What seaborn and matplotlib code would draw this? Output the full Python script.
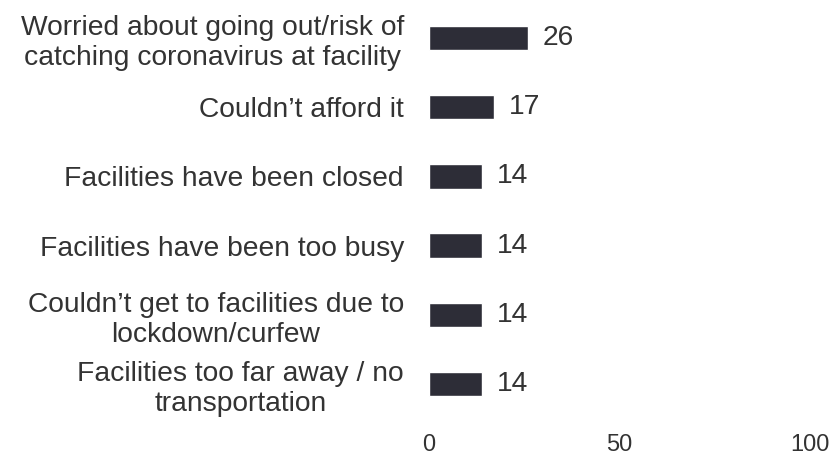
import matplotlib
matplotlib.use("Agg")
import matplotlib.pyplot as plt
import seaborn as sns
import pandas as pd

reasons = [
    "Worried about going out/risk of\ncatching coronavirus at facility",
    "Couldn\u2019t afford it",
    "Facilities have been closed",
    "Facilities have been too busy",
    "Couldn\u2019t get to facilities due to\nlockdown/curfew",
    "Facilities too far away / no\ntransportation",
]
values = [26, 17, 14, 14, 14, 14]
x_ticks = [0, 50, 100]

df = pd.DataFrame({"reason": reasons, "value": values})

sns.set_theme(style="white")
plt.rcParams["font.family"] = ["Liberation Sans", "DejaVu Sans"]

fig, ax = plt.subplots(figsize=(8.35, 4.54), dpi=100)
fig.subplots_adjust(left=429 / 835, right=810 / 835, top=1 - 3.5 / 454, bottom=1 - 418.5 / 454)

sns.barplot(data=df, x="value", y="reason", orient="h", color="#2d2d37",
            saturation=1, width=0.35, ax=ax)

# waarden rechts naast de balken
for i, v in enumerate(values):
    ax.text(v + 3.9, i, str(v), va="center", ha="left", fontsize=20.3, color="#333333")

ax.set_xlim(0, 100)
ax.set_ylim(5.5, -0.5)
ax.set_xticks(x_ticks)
ax.set_xlabel("")
ax.set_ylabel("")
sns.despine(ax=ax, left=True, bottom=True)
ax.tick_params(axis="x", length=0, labelsize=17, labelcolor="#333333", pad=11)
ax.tick_params(axis="y", length=0, labelsize=20.3, labelcolor="#333333", pad=18)
for lab in ax.get_yticklabels():
    lab.set_multialignment("center")
    lab.set_linespacing(1.2)

plt.savefig("out.png", dpi=100)
